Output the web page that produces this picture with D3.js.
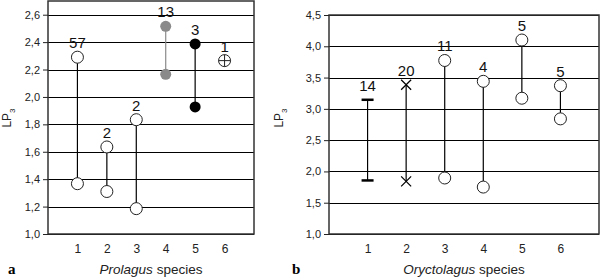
<html>
<head>
<style>
body { margin: 0; background: #fff; }
svg { display: block; font-family: 'Liberation Sans', Arial, sans-serif; }
.axis path { display: none; }
.axis line { stroke: #222; }
.axis text { fill: #222; }
</style>
</head>
<body>
<svg></svg>
<script src="https://cdnjs.cloudflare.com/ajax/libs/d3/7.8.5/d3.min.js"></script>
<script>

const width = 601;
const height = 278;

// species on the x axis (both panels)
const species = [1, 2, 3, 4, 5, 6];

// panel a: Prolagus
const prolagusMax = [2.29, 1.635, 1.834, 2.515, 2.387, 2.265];
const prolagusMin = [1.367, 1.31, 1.185, 2.165, 1.927, null];
const prolagusN = [57, 2, 2, 13, 3, 1];
const prolagusMarker = ['open', 'open', 'open', 'gray', 'black', 'plus'];
const prolagusTicks = [1.0, 1.2, 1.4, 1.6, 1.8, 2.0, 2.2, 2.4, 2.6];

// panel b: Oryctolagus
const oryctoMax = [3.145, 3.385, 3.773, 3.44, 4.10, 3.37];
const oryctoMin = [1.856, 1.84, 1.895, 1.75, 3.17, 2.84];
const oryctoN = [14, 20, 11, 4, 5, 5];
const oryctoMarker = ['dash', 'cross', 'open', 'open', 'open', 'open'];
const oryctoTicks = [1.0, 1.5, 2.0, 2.5, 3.0, 3.5, 4.0, 4.5];

const panels = [
    {
        letter: 'a', genus: 'Prolagus', letterX: 8, labelX: 11,
        xRange: [48, 254], yDomain: [1.0, 2.7], yRange: [234, 1],
        ticks: prolagusTicks, max: prolagusMax, min: prolagusMin,
        n: prolagusN, marker: prolagusMarker,
    },
    {
        letter: 'b', genus: 'Oryctolagus', letterX: 292, labelX: 283,
        xRange: [329, 599], yDomain: [1.0, 4.5], yRange: [234, 15],
        ticks: oryctoTicks, max: oryctoMax, min: oryctoMin,
        n: oryctoN, marker: oryctoMarker,
    },
];

const commaFormat = d => d3.format('.1f')(d).replace('.', ',');

const svg = d3.select('svg')
    .attr('width', width)
    .attr('height', height);

function markerColor(m) {
    if (m === 'gray') return '#8a8a8a';
    if (m === 'black') return '#000';
    return '#fff';
}

function drawMarker(g, m, x, y) {
    if (m === 'dash') {
        g.append('line')
            .attr('x1', x - 6).attr('x2', x + 6)
            .attr('y1', y).attr('y2', y)
            .attr('stroke', '#000').attr('stroke-width', 2.5);
    } else if (m === 'cross') {
        g.append('path')
            .attr('d', `M${x - 5},${y - 5}L${x + 5},${y + 5}M${x - 5},${y + 5}L${x + 5},${y - 5}`)
            .attr('stroke', '#000').attr('stroke-width', 1.2);
    } else if (m === 'plus') {
        g.append('circle')
            .attr('cx', x).attr('cy', y).attr('r', 6)
            .attr('fill', '#fff').attr('stroke', '#222').attr('stroke-width', 1);
        g.append('path')
            .attr('d', `M${x - 6},${y}L${x + 6},${y}M${x},${y - 6}L${x},${y + 6}`)
            .attr('stroke', '#222').attr('stroke-width', 1);
    } else if (m === 'open') {
        g.append('circle')
            .attr('cx', x).attr('cy', y).attr('r', 6)
            .attr('fill', '#fff').attr('stroke', '#222').attr('stroke-width', 1);
    } else {
        g.append('circle')
            .attr('cx', x).attr('cy', y).attr('r', 5.5)
            .attr('fill', markerColor(m)).attr('stroke', 'none');
    }
}

panels.forEach(p => {
    const x = d3.scaleLinear().domain([0, 7]).range(p.xRange);
    const y = d3.scaleLinear().domain(p.yDomain).range(p.yRange);
    const g = svg.append('g');

    // gridlines
    g.append('g').selectAll('line').data(p.ticks)
        .join('line')
        .attr('x1', p.xRange[0]).attr('x2', p.xRange[1])
        .attr('y1', d => Math.round(y(d)) + 0.5).attr('y2', d => Math.round(y(d)) + 0.5)
        .attr('stroke', '#000').attr('stroke-width', 1.2);

    // frame
    g.append('rect')
        .attr('x', p.xRange[0]).attr('y', p.yRange[1])
        .attr('width', p.xRange[1] - p.xRange[0])
        .attr('height', p.yRange[0] - p.yRange[1])
        .attr('fill', 'none').attr('stroke', '#333').attr('stroke-width', 1.5);

    // y axis
    g.append('g').attr('class', 'axis')
        .attr('transform', `translate(${p.xRange[0]},0)`)
        .call(d3.axisLeft(y).tickValues(p.ticks).tickFormat(commaFormat).tickSize(5).tickPadding(3))
        .selectAll('text').style('font-size', '11px');

    // x axis
    g.append('g').attr('class', 'axis')
        .attr('transform', `translate(0,${p.yRange[0]})`)
        .call(d3.axisBottom(x).tickValues(species).tickFormat(d3.format('d')).tickSize(0).tickPadding(10))
        .selectAll('text').style('font-size', '12px');

    // axis titles
    const title = g.append('text')
        .attr('x', (p.xRange[0] + p.xRange[1]) / 2)
        .attr('y', 274)
        .attr('text-anchor', 'middle')
        .style('font-size', '13.5px')
        .attr('fill', '#222');
    title.append('tspan').style('font-style', 'italic').text(p.genus);
    title.append('tspan').text(' species');

    const lp = g.append('text')
        .attr('transform', `translate(${p.labelX},118) rotate(-90)`)
        .attr('text-anchor', 'middle')
        .style('font-size', '12px')
        .attr('fill', '#222');
    lp.append('tspan').text('LP');
    lp.append('tspan').attr('dy', 4).style('font-size', '8px').text('3');

    g.append('text')
        .attr('x', p.letterX).attr('y', 274)
        .style('font-family', "'Liberation Serif', serif")
        .style('font-weight', 'bold')
        .style('font-size', '15px')
        .text(p.letter);

    // range lines, markers and counts
    species.forEach((s, i) => {
        const cx = x(s);
        const m = p.marker[i];
        const lineColor = m === 'gray' ? '#8a8a8a' : '#000';
        if (p.min[i] != null) {
            g.append('line')
                .attr('x1', cx).attr('x2', cx)
                .attr('y1', y(p.max[i])).attr('y2', y(p.min[i]))
                .attr('stroke', lineColor).attr('stroke-width', 1.2);
            drawMarker(g, m, cx, y(p.min[i]));
        }
        drawMarker(g, m, cx, y(p.max[i]));
        g.append('text')
            .attr('x', cx)
            .attr('y', y(p.max[i]) - 9)
            .attr('text-anchor', 'middle')
            .style('font-size', '15px')
            .attr('fill', '#111')
            .text(p.n[i]);
    });
});

</script>
</body>
</html>
